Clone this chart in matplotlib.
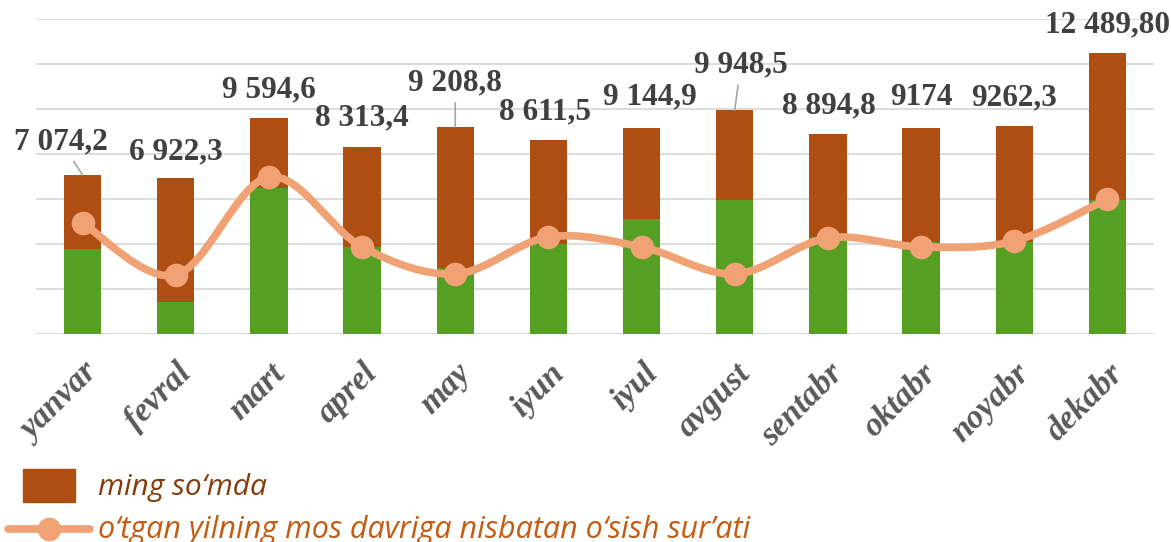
import numpy as np
import matplotlib.pyplot as plt
from matplotlib.path import Path
from matplotlib.patches import PathPatch, Rectangle
from matplotlib.lines import Line2D

oylar = ['yanvar', 'fevral', 'mart', 'aprel', 'may', 'iyun',
         'iyul', 'avgust', 'sentabr', 'oktabr', 'noyabr', 'dekabr']
ming_somda = [7074.2, 6922.3, 9594.6, 8313.4, 9208.8, 8611.5,
              9144.9, 9948.5, 8894.8, 9174.0, 9262.3, 12489.8]
yorliqlar = ['7 074,2', '6 922,3', '9 594,6', '8 313,4', '9 208,8', '8 611,5',
             '9 144,9', '9 948,5', '8 894,8', '9174', '9262,3', '12 489,80']
# yashil ustunlar (legendasi rasmda ko'rinmaydi)
yashil = [3780, 1420, 6500, 3870, 2930, 4000,
          5110, 5960, 4310, 4090, 4090, 5960]
# o'sish sur'ati chizig'i (shu o'qda o'qilgan qiymatlar)
osish = [4930, 2620, 6980, 3870, 2670, 4310,
         3870, 2670, 4270, 3870, 4130, 6000]

# yorliq siljishlari (piksel)
dx = [-22, 0, 0, 0, 0, -3, 8, 6, 1, 0, 0, 0]
dy = [33, 26, 28, 29, 44, 28, 31, 45, 28, 30, 28, 28]
chiziqli = [0, 4, 7]

jigar = '#AE4E13'
yashil_rang = '#55A022'
apelsin = '#F1A274'

fig = plt.figure(figsize=(11.71, 5.42), dpi=100)
ax = fig.add_axes([36/1171, 1-334/542, 1118/1171, 315/542])

x = np.arange(len(oylar))
ax.bar(x, ming_somda, width=0.4, color=jigar, zorder=2)
ax.bar(x, yashil, width=0.4, color=yashil_rang, zorder=3)

# silliq chiziq (Excel uslubidagi Bezier)
pts = np.column_stack([x, osish]).astype(float)
verts = [tuple(pts[0])]
codes = [Path.MOVETO]
n = len(pts)
for i in range(n-1):
    p0 = pts[max(i-1, 0)]
    p1 = pts[i]
    p2 = pts[i+1]
    p3 = pts[min(i+2, n-1)]
    c1 = p1 + (p2 - p0)/6
    c2 = p2 - (p3 - p1)/6
    verts += [tuple(c1), tuple(c2), tuple(p2)]
    codes += [Path.CURVE4]*3
ax.add_patch(PathPatch(Path(verts, codes), facecolor='none', edgecolor=apelsin,
                       lw=5.5, zorder=4, capstyle='round', joinstyle='round'))
ax.plot(x, osish, 'o', color=apelsin, ms=16, zorder=5)

for i, v in enumerate(ming_somda):
    ap = None
    if i in chiziqli:
        ap = dict(arrowstyle='-', color='#A6A6A6', lw=1.2, shrinkA=2, shrinkB=0)
    ax.annotate(yorliqlar[i], xy=(i, v), xytext=(dx[i], dy[i]),
                textcoords='offset pixels', ha='center', va='center',
                fontsize=22.5, fontweight='bold', family='Liberation Serif',
                color='#404040', arrowprops=ap, annotation_clip=False, zorder=6)

ax.set_xlim(-0.5, 11.5)
ax.set_ylim(0, 14000)
ax.set_yticks(np.arange(0, 14001, 2000))
ax.set_yticklabels([])
ax.tick_params(axis='y', length=0)
ax.grid(axis='y', color='#D9D9D9', lw=1.3, zorder=0)
ax.set_axisbelow(True)
for s in ax.spines.values():
    s.set_visible(False)
ax.axhline(0, color='#D9D9D9', lw=1.5, zorder=1)

ax.set_xticks(x)
ax.set_xticklabels(oylar, rotation=45, ha='right', rotation_mode='anchor',
                   fontsize=24, fontweight='bold', fontstyle='italic',
                   family='Liberation Serif', color='#595959')
ax.tick_params(axis='x', length=0, pad=17)

# legenda
fig.patches.append(Rectangle((23/1171, 1-502/542), 52/1171, 33/542,
                             transform=fig.transFigure, color=jigar))
fig.text(98/1171, 1-487/542, 'ming so‘mda', fontsize=21.5, fontstyle='italic',
         family='Open Sans', color='#843C0C', va='center')
fig.add_artist(Line2D([8/1171, 90/1171], [1-529/542, 1-529/542],
                      transform=fig.transFigure, color=apelsin, lw=5.5,
                      solid_capstyle='round'))
fig.add_artist(Line2D([49/1171], [1-529/542], transform=fig.transFigure,
                      marker='o', ms=16, color=apelsin))
fig.text(98/1171, 1-530/542, 'o‘tgan yilning mos davriga nisbatan o‘sish sur’ati',
         fontsize=22, fontstyle='italic', family='Open Sans', color='#C55A11',
         va='center')

fig.savefig('out.png', dpi=100)
